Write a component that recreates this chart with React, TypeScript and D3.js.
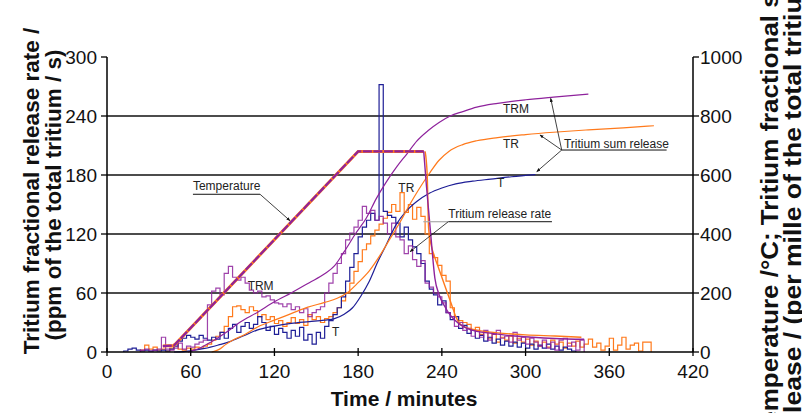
import React from "react";
import * as d3 from "d3";

const W = 802;
const H = 413;

const xTicks = [0, 60, 120, 180, 240, 300, 360, 420];
const leftTicks = [0, 60, 120, 180, 240, 300];
const rightTicks = [0, 200, 400, 600, 800, 1000];

// release rate histograms (ppm / s), bins of 3 minutes
const binWidth = 3;
const tRateStart = 12;
const tRate = [
  1, 3, 4, 2, 1, 2, 1, 2, 1, 2, 1, 3,
  6, 11, 14, 17, 15, 13, 17, 14, 12, 15, 13, 20,
  14, 24, 28, 20, 26, 30, 24, 28, 36, 30, 22, 26,
  18, 24, 20, 14, 22, 16, 25, 12, 18, 8, 20, 14,
  26, 32, 38, 45, 56, 72, 86, 100, 117, 127, 134, 141,
  134, 272, 143, 139, 137, 131, 117, 127, 114, 107, 100, 90,
  72, 64, 58, 48, 52, 40, 33, 36, 24, 27, 19, 22,
  14, 17, 11, 15, 9, 13, 7, 11, 6, 10, 5, 9,
  4, 8, 3, 7, 4, 8, 3, 6, 2, 5, 3, 1,
];
const trRateStart = 24;
const trRate = [
  2, 7, 3, 5, 2, 3, 1, 4, 8, 3, 2, 4,
  3, 5, 4, 6, 8, 12, 16, 20, 26, 36, 46, 47,
  43, 40, 46, 42, 36, 38, 33, 36, 29, 32, 26, 30,
  35, 29, 33, 27, 38, 33, 36, 30, 34, 36, 40, 45,
  52, 60, 70, 82, 92, 104, 110, 118, 124, 130, 136, 142,
  150, 143, 162, 142, 150, 135, 147, 138, 120, 100, 96, 88,
  78, 72, 45, 36, 32, 30, 28, 22, 25, 18, 20, 14,
  18, 10, 15, 12, 16, 9, 14, 10, 13, 7, 11, 6,
  10, 5, 12, 8, 10, 4, 9, 6, 11, 5, 8, 13,
  5, 9, 2, 6, 14, 2, 7, 15, 3, 7, 9, 1,
  10, 10,
];
const trmRateStart = 24;
const trmRate = [
  2, 3, 1, 2, 3, 15, 3, 2, 4, 9, 3, 6,
  5, 8, 10, 12, 48, 62, 65, 58, 80, 87, 76, 73,
  76, 70, 63, 60, 62, 56, 57, 53, 50, 49, 46, 49,
  43, 46, 40, 44, 36, 40, 43, 46, 60, 70, 80, 90,
  100, 114, 121, 127, 134, 148, 141, 144, 134, 138, 131, 120,
  131, 117, 114, 100, 108, 94, 87, 93, 70, 66, 60, 56,
  50, 40, 36, 26, 30, 22, 24, 16, 22, 15, 22, 12,
  18, 22, 14, 16, 10, 20, 12, 15, 8, 14, 10, 6,
  12, 4, 10, 2, 12, 14, 6, 10, 2, 12,
];

// temperature (°C, right axis)
const tempRampTime = [40, 48, 180, 227];
const tempRampValue = [20, 22, 680, 680];
const trmCoolTime = [227, 229, 232, 235, 238, 242, 246, 252, 258, 265, 276, 290, 305, 321, 342];
const trmCoolValue = [680, 560, 400, 250, 195, 155, 125, 97, 80, 70, 63, 55, 50, 46, 43];
const trCoolTime = [228, 229.5, 230.5, 232, 235, 238, 241, 244, 247, 250, 253, 258, 264, 280, 300, 321, 340];
const trCoolValue = [680, 600, 420, 370, 320, 280, 240, 200, 160, 120, 95, 82, 75, 65, 58, 54, 50];

// tritium sum release (per mille, right axis)
const tSumTime = [48, 60, 70, 80, 88, 98, 108, 120, 132, 145, 156, 163, 170, 176, 182, 188, 194, 200, 207, 214, 222, 231, 240, 250, 262, 275, 290, 307];
const tSumValue = [0, 4, 12, 24, 35, 55, 75, 88, 97, 103, 108, 113, 128, 150, 190, 240, 305, 362, 430, 475, 510, 538, 556, 570, 579, 586, 594, 601];
const trSumTime = [75, 80, 85, 90, 97, 108, 120, 132, 144, 156, 165, 172, 180, 188, 196, 203, 210, 217, 224, 231, 238, 245, 255, 265, 280, 300, 320, 345, 370, 392];
const trSumValue = [0, 8, 25, 40, 55, 85, 108, 130, 152, 168, 182, 200, 235, 275, 330, 385, 440, 500, 555, 605, 650, 680, 703, 716, 727, 737, 745, 753, 760, 767];
const trmSumTime = [58, 65, 75, 85, 95, 108, 120, 132, 145, 156, 163, 170, 178, 186, 193, 200, 208, 215, 222, 230, 238, 246, 255, 265, 280, 300, 320, 345];
const trmSumValue = [0, 10, 35, 65, 100, 135, 170, 200, 235, 265, 292, 340, 400, 455, 520, 575, 630, 672, 715, 750, 778, 800, 815, 830, 843, 855, 864, 874];

const colT = "#1e1e96";
const colTR = "#ff7a1c";
const colTRM = "#8e229c";

const FONT = "'Liberation Sans', Arial, sans-serif";

export default function App() {
  const x = d3.scaleLinear().domain([0, 420]).range([107, 693]);
  const yL = d3.scaleLinear().domain([0, 300]).range([352, 57]);
  const yR = d3.scaleLinear().domain([0, 1000]).range([352, 57]);

  const stepPath = (start: number, vals: number[]) => {
    const pts: [number, number][] = [[start, 0]];
    vals.forEach((v, i) => pts.push([start + i * binWidth, v]));
    const end = start + vals.length * binWidth;
    pts.push([end, vals[vals.length - 1]]);
    pts.push([end, 0]);
    return d3
      .line<[number, number]>()
      .x((d) => x(d[0]))
      .y((d) => yL(d[1]))
      .curve(d3.curveStepAfter)(pts) as string;
  };

  const smooth = (ts: number[], vs: number[], curve: any = d3.curveMonotoneX) =>
    d3
      .line<number>()
      .x((_, i) => x(ts[i]))
      .y((v) => yR(v))
      .curve(curve)(vs) as string;

  const P = (t: number, v: number) => [x(t), yL(v)];

  const ann = { fontFamily: FONT, fontSize: 12, fill: "#222" } as const;

  const [tmpX, tmpY] = P(61.6, 164.7);
  const [tmpU1x, tmpUy] = P(61.6, 160.4);
  const [tmpU2x] = P(109.7, 160.4);
  const [tmpAx, tmpAy] = P(131.2, 133.5);

  const [rrX, rrY] = P(244.6, 136.3);
  const [rrU1x, rrUy] = P(244.6, 132.5);
  const [rrU2x] = P(318.9, 132.5);
  const [rrAx, rrAy] = P(217.2, 102);
  const [rrGx] = P(226.7, 132.5);

  const [srX, srY] = P(327.5, 207.5);
  const [srU1x, srUy] = P(325.9, 205.4);
  const [srU2x] = P(401.1, 205.4);
  const srArrows = [P(318, 258), P(310.3, 220.7), P(308, 183.4)];

  return (
    <svg
      width={W}
      height={H}
      style={{ position: "absolute", left: 0, top: 0, background: "#fff" }}
      fontFamily={FONT}
    >
      <defs>
        <marker id="arr" viewBox="0 0 10 10" refX="9" refY="5" markerWidth="5" markerHeight="5" orient="auto">
          <path d="M0,1 L10,5 L0,9 z" fill="#111" />
        </marker>
      </defs>
      <rect x={0} y={0} width={W} height={H} fill="#fff" />

      {/* gridlines */}
      {leftTicks
        .filter((t) => t > 0 && t < 300)
        .map((t) => (
          <line key={"g" + t} x1={x(0)} x2={x(420)} y1={yL(t)} y2={yL(t)} stroke="#111" strokeWidth={1.3} />
        ))}

      {/* histograms */}
      <path d={stepPath(trRateStart, trRate)} fill="none" stroke={colTR} strokeWidth={1.2} />
      <path d={stepPath(tRateStart, tRate)} fill="none" stroke={colT} strokeWidth={1.2} />
      <path d={stepPath(trmRateStart, trmRate)} fill="none" stroke={colTRM} strokeWidth={1.2} strokeOpacity={0.85} />

      {/* sum release */}
      <path d={smooth(tSumTime, tSumValue)} fill="none" stroke={colT} strokeWidth={1.2} />
      <path d={smooth(trSumTime, trSumValue)} fill="none" stroke={colTR} strokeWidth={1.2} />
      <path d={smooth(trmSumTime, trmSumValue)} fill="none" stroke={colTRM} strokeWidth={1.2} />

      {/* temperature */}
      <path d={smooth(tempRampTime, tempRampValue, d3.curveLinear)} fill="none" stroke={colTR} strokeWidth={3} />
      <path d={smooth(trCoolTime, trCoolValue)} fill="none" stroke={colTR} strokeWidth={1.4} />
      <path d={smooth(tempRampTime, tempRampValue, d3.curveLinear)} fill="none" stroke={colTRM} strokeWidth={2.2} strokeDasharray="9 1.5" />
      <path d={smooth(trmCoolTime, trmCoolValue)} fill="none" stroke={colTRM} strokeWidth={1.4} />

      {/* axes */}
      <line x1={x(0)} x2={x(420)} y1={yL(0)} y2={yL(0)} stroke="#000" strokeWidth={1.5} />
      <line x1={x(0)} x2={x(0)} y1={yL(0)} y2={yL(300)} stroke="#000" strokeWidth={1.5} />
      <line x1={x(420)} x2={x(420)} y1={yL(0)} y2={yL(300)} stroke="#000" strokeWidth={1.5} />
      {leftTicks.map((t) => (
        <g key={"l" + t}>
          <line x1={x(0) - 6} x2={x(0)} y1={yL(t)} y2={yL(t)} stroke="#000" strokeWidth={1.3} />
          <text x={97} y={yL(t) + 6.8} textAnchor="end" fontSize={19} fill="#111">
            {t}
          </text>
        </g>
      ))}
      {rightTicks.map((t) => (
        <g key={"r" + t}>
          <line x1={x(420)} x2={x(420) + 6} y1={yR(t)} y2={yR(t)} stroke="#000" strokeWidth={1.3} />
          <text x={700} y={yR(t) + 6.8} textAnchor="start" fontSize={19} fill="#111">
            {t}
          </text>
        </g>
      ))}
      {xTicks.map((t) => (
        <g key={"x" + t}>
          <line x1={x(t)} x2={x(t)} y1={yL(0) - 4} y2={yL(0) + 4} stroke="#000" strokeWidth={1.3} />
          <text x={x(t)} y={378} textAnchor="middle" fontSize={19} fill="#111">
            {t}
          </text>
        </g>
      ))}

      {/* axis titles */}
      <text x={404} y={406} textAnchor="middle" fontSize={21} fontWeight="bold" fill="#111">
        Time / minutes
      </text>
      <text transform="translate(39,191) rotate(-90)" textAnchor="middle" fontSize={22.5} fontWeight="bold" fill="#111">
        Tritium fractional release rate /
      </text>
      <text transform="translate(61,195) rotate(-90)" textAnchor="middle" fontSize={22.5} fontWeight="bold" fill="#111">
        (ppm of the total tritium / s)
      </text>
      <text
        transform="translate(778,197) rotate(-90)"
        textAnchor="middle"
        fontSize={24}
        fontWeight="bold"
        fill="#111"
        textLength={485}
        lengthAdjust="spacingAndGlyphs"
      >
        Temperature /°C; Tritium fractional sum
      </text>
      <text
        transform="translate(801,201.5) rotate(-90)"
        textAnchor="middle"
        fontSize={24}
        fontWeight="bold"
        fill="#111"
        textLength={473}
        lengthAdjust="spacingAndGlyphs"
      >
        release / (per mille of the total tritium)
      </text>

      {/* annotations */}
      <text x={tmpX} y={tmpY} {...ann}>Temperature</text>
      <line x1={tmpU1x} x2={tmpU2x} y1={tmpUy} y2={tmpUy} stroke="#111" strokeWidth={1} />
      <line x1={tmpU2x} y1={tmpUy} x2={tmpAx} y2={tmpAy} stroke="#111" strokeWidth={0.8} markerEnd="url(#arr)" />

      <text {...ann} x={P(100.8, 63)[0]} y={P(100.8, 63)[1]}>TRM</text>
      <text {...ann} x={P(161.3, 16.3)[0]} y={P(161.3, 16.3)[1]}>T</text>
      <text {...ann} x={P(208.8, 162.7)[0]} y={P(208.8, 162.7)[1]}>TR</text>

      <text x={rrX} y={rrY} {...ann}>Tritium release rate</text>
      <line x1={rrU1x} x2={rrU2x} y1={rrUy} y2={rrUy} stroke="#111" strokeWidth={1} />
      <line x1={rrGx} x2={rrU1x} y1={rrUy} y2={rrUy} stroke="#aaa" strokeWidth={1.2} />
      <line x1={rrU1x} y1={rrUy} x2={rrAx} y2={rrAy} stroke="#111" strokeWidth={0.8} markerEnd="url(#arr)" />

      <text x={srX} y={srY} {...ann}>Tritium sum release</text>
      <line x1={srU1x} x2={srU2x} y1={srUy} y2={srUy} stroke="#111" strokeWidth={1} />
      {srArrows.map(([ax, ay], i) => (
        <line key={"sa" + i} x1={srU1x} y1={srUy} x2={ax} y2={ay} stroke="#111" strokeWidth={0.8} markerEnd="url(#arr)" />
      ))}

      <text {...ann} x={P(283.8, 243)[0]} y={P(283.8, 243)[1]}>TRM</text>
      <text {...ann} x={P(283.8, 207.5)[0]} y={P(283.8, 207.5)[1]}>TR</text>
      <text {...ann} x={P(279.5, 167.8)[0]} y={P(279.5, 167.8)[1]}>T</text>
    </svg>
  );
}
